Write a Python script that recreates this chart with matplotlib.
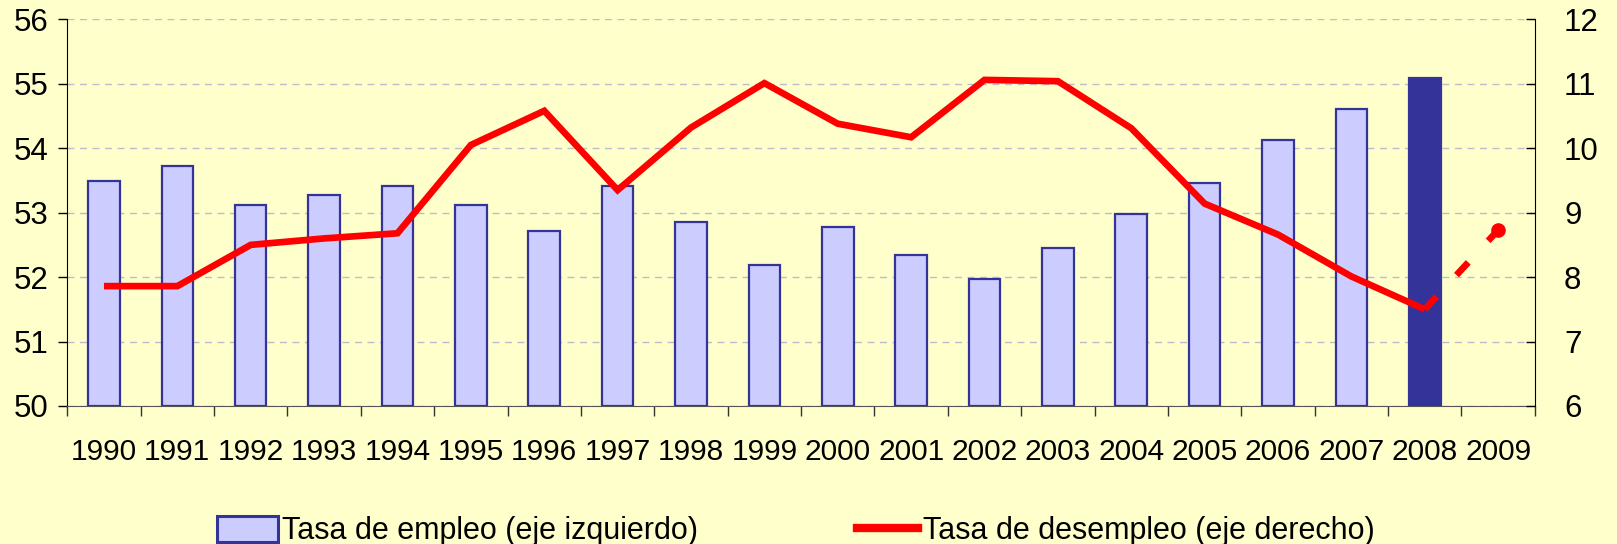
import numpy as np
import matplotlib
matplotlib.use("Agg")
import matplotlib.pyplot as plt
from matplotlib.patches import Patch
from matplotlib.lines import Line2D

plt.rcParams["font.family"] = ["Liberation Sans", "DejaVu Sans"]

YEARS = [str(y) for y in range(1990, 2010)]
EMPLEO = [53.49, 53.72, 53.12, 53.27, 53.42, 53.12, 52.72, 53.42, 52.86, 52.19,
          52.78, 52.34, 51.97, 52.45, 52.98, 53.46, 54.12, 54.61, 55.09]
DESEMPLEO = [7.86, 7.86, 8.50, 8.60, 8.68, 10.05, 10.58, 9.35, 10.32, 11.01,
             10.38, 10.17, 11.06, 11.04, 10.31, 9.14, 8.66, 8.01, 7.50]
PRONOSTICO = [7.50, 8.73]  # 2008 -> 2009

BG = "#FFFFCC"
BAR_FILL = "#CCCCFF"
BAR_EDGE = "#333399"
RED = "#FF0000"
FS_X = 21.5
FS_Y = 22.5
FS_LEG = 22


def main():
    fig = plt.figure(figsize=(16.17, 5.44), dpi=100, facecolor=BG)
    ax = fig.add_axes([0.0416, 0.2537, 0.9076, 0.7108])
    ax.set_facecolor(BG)

    x = np.arange(len(EMPLEO))
    fills = [BAR_FILL] * (len(EMPLEO) - 1) + [BAR_EDGE]
    ax.bar(x, np.array(EMPLEO) - 50, bottom=50, width=0.43, color=fills,
           edgecolor=BAR_EDGE, linewidth=1.6, zorder=2)
    ax.set_xlim(-0.5, len(YEARS) - 0.5)
    ax.set_ylim(50, 56)
    ax.set_yticks(range(50, 57))
    ax.grid(axis="y", ls=(0, (5, 4)), color="#bcbccc", lw=1.0, zorder=0)
    ax.set_axisbelow(True)

    ax.set_xticks(np.arange(-0.5, len(YEARS)), labels=[])
    ax.set_xticks(np.arange(len(YEARS)), labels=YEARS, minor=True)
    ax.tick_params(axis="x", which="major", length=7.2, width=1.0,
                   color="#333333", direction="out")
    ax.tick_params(axis="x", which="minor", length=0, pad=23, labelsize=FS_X)
    ax.tick_params(axis="y", length=6.5, width=1.0, direction="out",
                   pad=7, labelsize=FS_Y)
    ax.spines["top"].set_visible(False)
    ax.spines["right"].set_visible(False)
    ax.spines["bottom"].set_color("#555555")

    ax2 = ax.twinx()
    ax2.set_ylim(6, 12)
    ax2.set_yticks(range(6, 13))
    ax2.plot(x, DESEMPLEO, color=RED, lw=4.8, solid_joinstyle="miter",
             solid_capstyle="butt", zorder=3)
    ax2.plot([x[-1], x[-1] + 1], PRONOSTICO, color=RED, lw=4.8,
             dashes=(2.6, 4.4), dash_capstyle="butt", marker="o",
             markersize=9.5, markevery=[1], zorder=3)
    ax2.tick_params(axis="y", length=6.5, width=1.0, direction="in",
                    pad=21, labelsize=FS_Y)
    for s in ("top", "left", "bottom"):
        ax2.spines[s].set_visible(False)

    handles = [
        Patch(facecolor=BAR_FILL, edgecolor=BAR_EDGE, linewidth=2.2),
        Line2D([], [], color=RED, lw=6),
    ]
    fig.legend(handles, ["Tasa de empleo (eje izquierdo)",
                         "Tasa de desempleo (eje derecho)"],
               loc="lower center", bbox_to_anchor=(0.492, -0.055), ncol=2,
               frameon=False, fontsize=FS_LEG, handlelength=2.0,
               handleheight=0.9, handletextpad=0.15, columnspacing=5.2)

    fig.savefig("out.png", dpi=100, facecolor=BG)


if __name__ == "__main__":
    main()
